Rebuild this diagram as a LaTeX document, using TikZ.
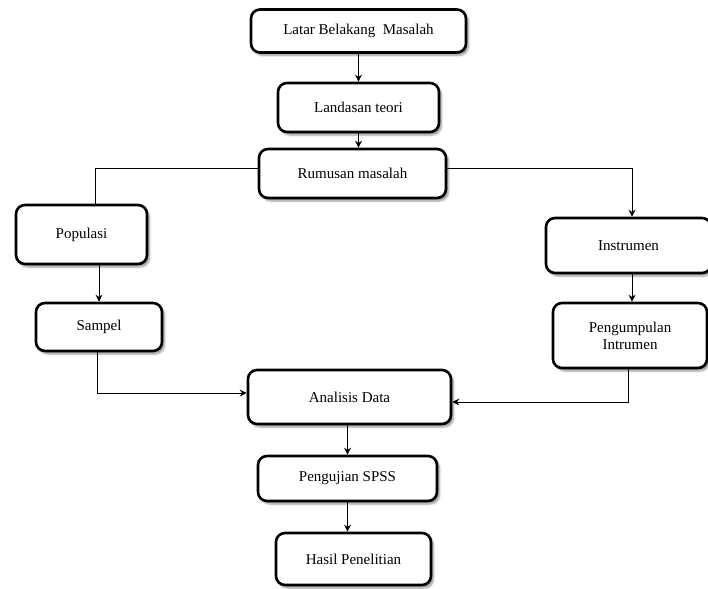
\documentclass[tikz,border=0pt]{standalone}
\usepackage{fontspec}
\setmainfont{Liberation Serif}
\usetikzlibrary{arrows.meta,shadows.blur}
\begin{document}
\begin{tikzpicture}[x=1pt,y=-1pt,
        box/.style={draw,line width=2.6pt,rounded corners=9pt,fill=white,
          blur shadow={shadow xshift=2.5pt,shadow yshift=-3pt,shadow blur steps=6},
          font=\fontsize{15}{17}\selectfont,align=center,inner sep=0pt},
        link/.style={line width=0.9pt},
        arrow/.style={link,-{Stealth[length=7pt,width=7pt]}}]
        \useasboundingbox (0,0) rectangle (708,588);
        
        \node[box,minimum width=215pt,minimum height=43pt] (latar) at (358.5,31) {Latar Belakang~ Masalah};
        \node[box,minimum width=161pt,minimum height=49pt] (landasan) at (358.5,107.5) {Landasan teori};
        \node[box,minimum width=187pt,minimum height=49pt] (rumusan) at (352.5,173.5) {Rumusan masalah};
        
        \node[box,minimum width=131pt,minimum height=59pt] (populasi) at (81.5,234.5) {Populasi};
        \node[box,minimum width=126pt,minimum height=48pt] (sampel) at (99,327) {Sampel};
        
        \node[box,minimum width=165pt,minimum height=55pt] (instrumen) at (628.5,245.5) {Instrumen};
        \node[box,minimum width=154pt,minimum height=65pt] (kumpul) at (630,335.5) {Pengumpulan\\Intrumen};
        
        \node[box,minimum width=203pt,minimum height=54pt] (analisis) at (349.5,397) {Analisis Data};
        \node[box,minimum width=179pt,minimum height=45pt] (spss) at (347.5,478.5) {Pengujian SPSS};
        \node[box,minimum width=155pt,minimum height=52pt] (hasil) at (353.5,559) {Hasil Penelitian};
        
        % alur utama
        \draw[arrow] (latar.south) -- (landasan.north);
        \draw[arrow] (landasan.south) -- (landasan.south |- rumusan.north);
        
        % cabang kiri dan kanan
        \draw[link] ([yshift=5.5pt]rumusan.west) -| ([xshift=13.5pt]populasi.north);
        \draw[arrow] ([yshift=5.5pt]rumusan.east) -| ([xshift=3.5pt]instrumen.north);
        \draw[arrow] (sampel.north |- populasi.south) -- (sampel.north);
        \draw[arrow] ([xshift=3.5pt]instrumen.south) -- ([xshift=3.5pt]instrumen.south |- kumpul.north);
        
        % menuju analisis
        \draw[arrow] ([xshift=-2pt]sampel.south) |- ([yshift=4pt]analisis.west);
        \draw[arrow] ([xshift=-2pt]kumpul.south) |- ([yshift=-5pt]analisis.east);
        \draw[arrow] (spss.north |- analisis.south) -- (spss.north);
        \draw[arrow] (spss.south) -- (spss.south |- hasil.north);
\end{tikzpicture}
\end{document}
